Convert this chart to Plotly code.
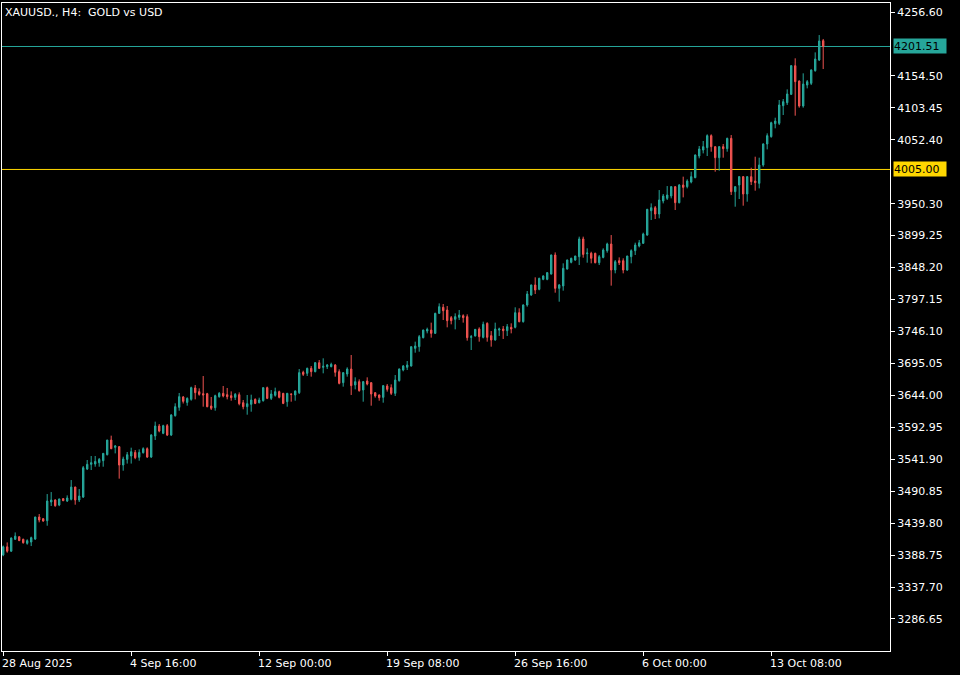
import plotly.graph_objects as go

# ---------------- data ----------------
opens = [3389, 3402, 3395, 3414, 3418, 3414, 3407.5, 3409.6, 3414.4, 3449.6,
         3446.9, 3443.7, 3473.6, 3476.8, 3468.8, 3478.9, 3475.2, 3477.8, 3497.5, 3476.8,
         3481.5, 3526.3, 3533.8, 3534.3, 3536.4, 3539.6, 3549.2, 3572.6, 3560.9, 3562.0,
         3532.7, 3541.7, 3547.1, 3552.9, 3545.0, 3552.4, 3558.8, 3545.5, 3579.0, 3595.0,
         3583.3, 3595.6, 3580.6, 3611.5, 3624.9, 3641.4, 3632.8, 3637.6, 3655.8, 3649.9,
         3646.7, 3646.7, 3627.0, 3624.3, 3641.9, 3647.2, 3645.1, 3643.5, 3640.8, 3645.1,
         3632.3, 3625.9, 3629.7, 3637.6, 3632.3, 3635.5, 3656.3, 3639.2, 3644.0, 3649.9,
         3647.2, 3633.9, 3646.2, 3644.6, 3648.3, 3680.8, 3679.2, 3687.2, 3681.9, 3696.2,
         3688.8, 3689.9, 3689.9, 3692.5, 3681.9, 3664.3, 3678.1, 3686.1, 3660.6, 3665.9,
         3652.6, 3667.0, 3664.3, 3648.3, 3644.6, 3640.8, 3659.0, 3656.3, 3647.2, 3667.5,
         3684.5, 3688.8, 3690.9, 3719.1, 3721.8, 3736.2, 3746.8, 3748.4, 3743.1, 3775.1,
         3784.7, 3780.4, 3768.2, 3765.5, 3768.7, 3771.3, 3769.8, 3736.7, 3738.9, 3750.0,
         3736.7, 3759.1, 3739.4, 3732.5, 3748.4, 3750.0, 3747.4, 3752.7, 3752.7, 3776.1,
         3761.8, 3788.4, 3804.4, 3820.4, 3813.4, 3829.4, 3829.4, 3837.9, 3868.3, 3815.0,
         3818.8, 3845.9, 3856.6, 3860.3, 3865.6, 3893.9, 3870.4, 3871.0, 3871.0, 3856.0,
         3864.5, 3875.2, 3885.9, 3844.3, 3859.2, 3859.2, 3844.3, 3865.6, 3875.2, 3882.7,
         3887.0, 3900.2, 3939.1, 3943.9, 3933.8, 3954.6, 3958.8, 3962.6, 3977.5, 3951.9,
         3980.1, 3977.5, 3984.9, 3991.9, 4026.5, 4036.1, 4039.8, 4059.0, 4041.4, 4023.8,
         4041.4, 4038.2, 4054.7, 3969.5, 3980.1, 3993.5, 3965.8, 3993.5, 3986.5, 3982.8,
         4012.1, 4045.7, 4057.4, 4078.1, 4078.7, 4106.9, 4111.7, 4125.0, 4170.8, 4146.3,
         4106.4, 4139.9, 4142.6, 4162.8, 4179.9, 4210.8]

highs = [3404, 3409, 3417, 3425, 3419, 3415, 3414, 3418.2, 3450, 3454.4,
         3448, 3486.3, 3489.5, 3478, 3479, 3480, 3484.2, 3508.7, 3498, 3494.3,
         3531.1, 3540.7, 3547.1, 3547.1, 3543.9, 3552, 3573, 3579.6, 3564.7, 3563,
         3546.0, 3553.5, 3560.4, 3556.7, 3557.7, 3561, 3560.9, 3582, 3602.0, 3598.2,
         3597, 3598.2, 3614, 3631.3, 3647.8, 3643, 3640.8, 3657.9, 3660.5, 3655.2,
         3674.9, 3648, 3641.4, 3645.1, 3649.4, 3659.0, 3655.8, 3650.4, 3647.8, 3648.8,
         3636.6, 3644.6, 3645.1, 3639.2, 3640.3, 3657, 3658, 3652.6, 3656.3, 3651.5,
         3648, 3648, 3647, 3652, 3686.1, 3683.4, 3688.3, 3690.9, 3697.3, 3700.5,
         3703.2, 3694.1, 3696.2, 3694, 3685.6, 3681, 3688.8, 3708.5, 3672.8, 3669.6,
         3667, 3672.8, 3665, 3649, 3645.5, 3660.6, 3662.1, 3661.6, 3676.5, 3687,
         3692.5, 3698.9, 3722, 3729.8, 3740.5, 3749, 3752.2, 3760.2, 3776, 3791.0,
         3790.0, 3786.8, 3770.8, 3775.1, 3780.4, 3773.5, 3773.5, 3740.5, 3750, 3752.7,
         3761.8, 3760.7, 3746.8, 3760.2, 3752.2, 3754.8, 3758.0, 3759.1, 3784.7, 3783.1,
         3789.5, 3810.8, 3821, 3832.6, 3832, 3836, 3841, 3869, 3872.5, 3822,
         3855.0, 3861, 3864, 3867, 3897.6, 3897.6, 3879.0, 3873.5, 3872, 3868.3,
         3879, 3888.0, 3900.2, 3860.3, 3864.5, 3863.0, 3867, 3877.3, 3888.0, 3892.3,
         3904.0, 3942, 3950.8, 3946.6, 3972.1, 3965.8, 3978.5, 3978.5, 3978, 3981.7,
         3993.5, 3989.2, 4001.4, 4029, 4042.5, 4050.5, 4061.1, 4061.1, 4042, 4042.5,
         4045.7, 4055.8, 4060.0, 3978, 3994.5, 3994.5, 3994.5, 4007.8, 4025.4, 4023.8,
         4046.8, 4062.7, 4081.3, 4087.7, 4116.0, 4117.6, 4133.0, 4171.9, 4182.6, 4147.4,
         4158.6, 4147.9, 4165.0, 4192.1, 4219.8, 4213.5]

lows = [3387, 3392.6, 3394, 3413, 3411, 3407, 3405.4, 3403.2, 3413, 3441.1,
        3442, 3435.7, 3467.2, 3466, 3467, 3475, 3473.6, 3476.2, 3469.3, 3473.6,
        3480, 3524.7, 3524.7, 3530, 3530, 3530, 3548, 3558, 3551.3, 3510.9,
        3523.6, 3535, 3535, 3542, 3539.6, 3551, 3544, 3544, 3572.7, 3585,
        3582, 3579, 3579, 3610, 3619.5, 3631, 3627.5, 3635.5, 3637.6, 3643.5,
        3625.9, 3625, 3620.6, 3619.5, 3640.3, 3640.8, 3637.6, 3635.5, 3636.6, 3628.1,
        3621.7, 3613.1, 3617.9, 3630, 3631.2, 3634, 3638, 3636.6, 3641.9, 3639.2,
        3630, 3625.9, 3633.9, 3635.5, 3646.2, 3675.0, 3675.0, 3673.9, 3680.8, 3686.1,
        3679.2, 3686.1, 3688.8, 3673.9, 3661.6, 3657.9, 3673.9, 3644.6, 3653.6, 3649.9,
        3633.9, 3660, 3627.5, 3640.3, 3635.5, 3632.3, 3650, 3644.6, 3643.0, 3666,
        3682.4, 3684.5, 3690, 3712.2, 3713.8, 3735, 3743.1, 3736.2, 3742, 3774.0,
        3764.4, 3752.7, 3757.5, 3749.5, 3764.4, 3760.2, 3731.4, 3716.5, 3738, 3729.8,
        3735.1, 3729.8, 3721.8, 3731.4, 3738.9, 3734.1, 3738.9, 3743.1, 3751.1, 3760.7,
        3760.2, 3785.7, 3803, 3806.0, 3812, 3828, 3828, 3837, 3808.1, 3793.7,
        3811.3, 3845, 3855, 3859, 3852.3, 3864.0, 3856.0, 3855, 3855, 3852.3,
        3863, 3872.0, 3819.3, 3839.0, 3852.3, 3839.0, 3843, 3855.0, 3868.3, 3880.5,
        3886, 3899, 3924.2, 3925.8, 3926.9, 3950.8, 3956.2, 3958.8, 3940.2, 3950.8,
        3960.4, 3974.8, 3982.8, 3991, 4022.8, 4030.7, 4026.5, 4033.4, 4001.4, 4003.0,
        4023.8, 4033.4, 3964.2, 3945.5, 3957.8, 3947.1, 3953.5, 3980.1, 3971.1, 3974.8,
        4009.4, 4037.1, 4055.8, 4070.7, 4076.0, 4092.0, 4108, 4124.0, 4090.9, 4103.7,
        4103.7, 4134.6, 4139.9, 4161.3, 4178.3, 4165.5]

closes = [3402, 3395, 3416, 3419, 3412, 3408.6, 3411.8, 3416.6, 3449.6, 3444.8,
          3443.2, 3475.2, 3476.8, 3467.7, 3478.4, 3475.7, 3480.0, 3497.5, 3476.8, 3483.1,
          3528.4, 3533.8, 3536.4, 3538.5, 3541.7, 3551.3, 3572.6, 3558.8, 3563.1, 3532.7,
          3542.3, 3549.2, 3554.0, 3544.4, 3552.9, 3558.8, 3545.5, 3580.6, 3595.0, 3587.0,
          3595.6, 3580.6, 3612.6, 3625.9, 3641.9, 3634.4, 3639.2, 3656.3, 3648.3, 3645.6,
          3644.6, 3625.9, 3623.3, 3643.5, 3647.2, 3643.0, 3641.9, 3640.3, 3645.6, 3630.7,
          3625.9, 3630.7, 3636.6, 3631.2, 3636.6, 3656.3, 3639.2, 3646.2, 3649.9, 3640.8,
          3631.2, 3647.2, 3645.6, 3650.9, 3680.3, 3677.6, 3687.2, 3681.9, 3696.2, 3687.2,
          3690.5, 3692.5, 3693.6, 3680.8, 3663.2, 3680.3, 3686.1, 3659.5, 3665.9, 3651.5,
          3665.9, 3662.1, 3646.2, 3643.0, 3640.3, 3659.5, 3653.6, 3647.2, 3668.5, 3686.1,
          3690.9, 3692.5, 3721.8, 3722.9, 3737.8, 3748.4, 3749.5, 3743.1, 3775.1, 3785.7,
          3779.3, 3763.4, 3763.4, 3769.8, 3772.4, 3768.2, 3736.2, 3737.8, 3749.5, 3737.8,
          3757.5, 3736.7, 3732.5, 3750.0, 3750.0, 3747.4, 3753.8, 3750.0, 3776.1, 3761.8,
          3788.4, 3806.0, 3820.4, 3812.3, 3831.0, 3834.7, 3840.1, 3868.3, 3815.0, 3820.4,
          3847.0, 3860.3, 3863.0, 3866.7, 3893.9, 3869.3, 3871.5, 3863.0, 3856.0, 3865.6,
          3876.3, 3885.9, 3844.3, 3857.6, 3856.0, 3844.3, 3866.7, 3875.2, 3884.3, 3887.8,
          3901.8, 3941.3, 3943.9, 3933.8, 3956.2, 3962.6, 3964.2, 3977.5, 3951.9, 3980.1,
          3976.4, 3986.5, 3993.5, 4028.1, 4037.7, 4041.4, 4059.0, 4041.4, 4023.8, 4041.4,
          4038.2, 4054.7, 3969.5, 3977.5, 3993.5, 3965.8, 3993.5, 3985.5, 3983.9, 4012.1,
          4045.7, 4059.0, 4079.7, 4082.4, 4108.0, 4113.3, 4125.6, 4170.8, 4145.3, 4106.4,
          4141.5, 4145.3, 4163.9, 4181.5, 4210.3, 4201.51]

bar_index = list(range(len(closes)))

x_tick_positions = [0, 32, 64, 96, 128, 160, 192]
x_tick_labels = ["28 Aug 2025", "4 Sep 16:00", "12 Sep 00:00", "19 Sep 08:00",
                 "26 Sep 16:00", "6 Oct 00:00", "13 Oct 08:00"]

y_tick_values = [3286.65, 3337.70, 3388.75, 3439.80, 3490.85, 3541.90, 3592.95,
                 3644.00, 3695.05, 3746.10, 3797.15, 3848.20, 3899.25, 3950.30,
                 4052.40, 4103.45, 4154.50, 4256.60]
y_tick_labels = ["3286.65", "3337.70", "3388.75", "3439.80", "3490.85", "3541.90", "3592.95",
                 "3644.00", "3695.05", "3746.10", "3797.15", "3848.20", "3899.25", "3950.30",
                 "4052.40", "4103.45", "4154.50", "4256.60"]

bid_level = 4201.51
alert_level = 4005.00
title_text = "XAUUSD., H4:\u00a0 GOLD vs USD"

# ---------------- styles ----------------
BULL = "#26a69a"
BEAR = "#ef5350"
LEVEL_YELLOW = "#ffd700"
FONT = "DejaVu Sans"

fig = go.Figure()
fig.add_trace(go.Candlestick(
    x=bar_index, open=opens, high=highs, low=lows, close=closes,
    increasing=dict(line=dict(color=BULL, width=1), fillcolor=BULL),
    decreasing=dict(line=dict(color=BEAR, width=1), fillcolor=BEAR),
    whiskerwidth=0, hoverinfo="skip", showlegend=False,
))

# price level lines
fig.add_shape(type="line", xref="paper", x0=0, x1=1, yref="y", y0=bid_level, y1=bid_level,
              line=dict(color=BULL, width=1), layer="below")
fig.add_shape(type="line", xref="paper", x0=0, x1=1, yref="y", y0=alert_level, y1=alert_level,
              line=dict(color=LEVEL_YELLOW, width=1), layer="below")

annotations = []
for lvl, bg in [(bid_level, BULL), (alert_level, LEVEL_YELLOW)]:
    annotations.append(dict(
        xref="paper", x=1, xanchor="left", xshift=3,
        yref="y", y=lvl, yanchor="middle",
        text=f"{lvl:.2f}", showarrow=False,
        font=dict(family=FONT, size=11, color="black"),
        bgcolor=bg, borderpad=0, width=52, height=14, align="left",
    ))

for pos, lab in zip(x_tick_positions, x_tick_labels):
    annotations.append(dict(
        xref="x", x=pos, xanchor="left", xshift=-3,
        yref="paper", y=0, yanchor="top", yshift=-4,
        text=lab, showarrow=False,
        font=dict(family=FONT, size=11, color="white"),
    ))

annotations.append(dict(
    xref="paper", x=0, xanchor="left", xshift=1,
    yref="paper", y=1, yanchor="top", yshift=-1,
    text=title_text, showarrow=False,
    font=dict(family=FONT, size=11, color="white"),
    bgcolor="black",
))

fig.update_layout(
    width=960, height=675,
    paper_bgcolor="black", plot_bgcolor="black",
    margin=dict(l=2, r=70, t=3, b=24, pad=0),
    boxgap=0.5,
    annotations=annotations,
    font=dict(family=FONT, size=11, color="white"),
    xaxis=dict(
        range=[-0.3, 221.7], rangeslider=dict(visible=False),
        showgrid=False, zeroline=False,
        showline=True, linecolor="white", linewidth=1, mirror=True,
        tickmode="array", tickvals=x_tick_positions, ticktext=x_tick_labels,
        showticklabels=False, ticks="outside", ticklen=4, tickcolor="white",
    ),
    yaxis=dict(
        side="right", range=[3235.5, 4271.0],
        showgrid=False, zeroline=False,
        showline=True, linecolor="white", linewidth=1, mirror=True,
        tickmode="array", tickvals=y_tick_values, ticktext=y_tick_labels,
        ticks="outside", ticklen=4, tickcolor="white",
        tickfont=dict(family=FONT, size=11, color="white"),
    ),
)

fig.write_html(
    "out.html",
    config={"displayModeBar": False},
    post_script="document.body.style.margin='0';document.body.style.background='black';",
)
